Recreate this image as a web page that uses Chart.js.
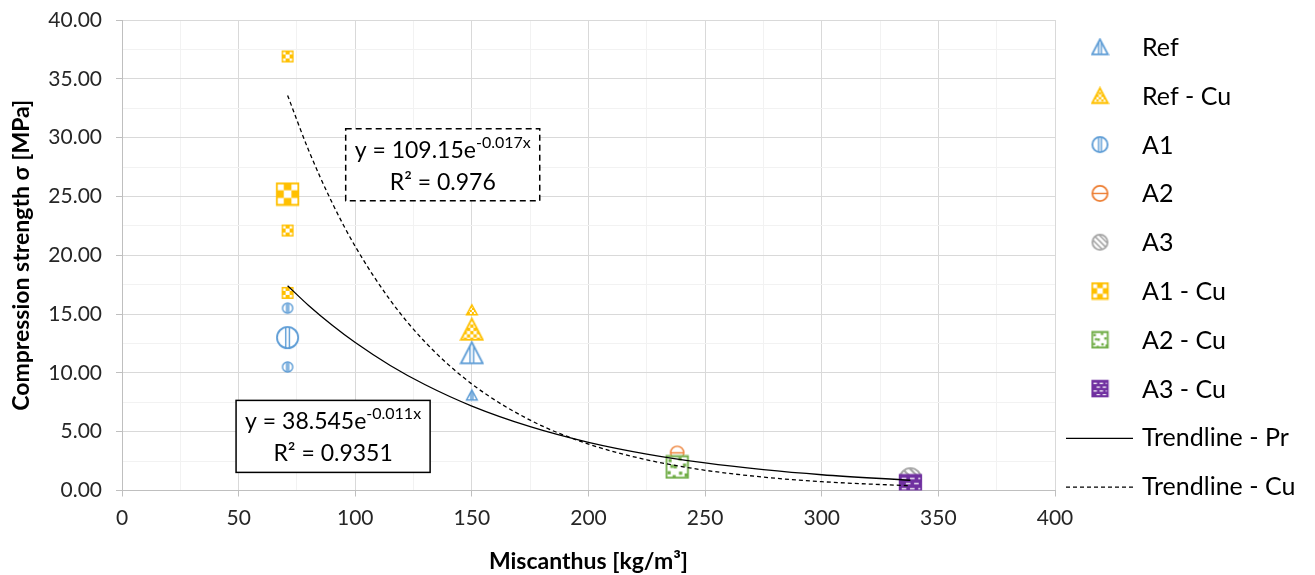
<!DOCTYPE html>
<html>
<head>
<meta charset="utf-8">
<script src="https://cdn.jsdelivr.net/npm/chart.js@4"></script>
<style>
  html, body { margin: 0; padding: 0; background: #fff; }
</style>
</head>
<body>
<canvas id="scatterChart" width="1315" height="575"></canvas>
<script>
const refX = [150, 150];
const refY = [8.1, 11.7];
const refCuX = [150, 150];
const refCuY = [15.35, 13.7];
const a1X = [71, 71, 71];
const a1Y = [15.5, 13.0, 10.5];
const a2X = [238];
const a2Y = [3.2];
const a3X = [338];
const a3Y = [1.0];
const a1CuX = [71, 71, 71, 71];
const a1CuY = [36.9, 25.2, 22.1, 16.8];
const a2CuX = [238];
const a2CuY = [2.0];
const a3CuX = [338];
const a3CuY = [0.4];

// 近似曲線（図の曲線から読み取った点）
const trendX = [71, 80, 90, 100, 115, 130, 150, 175, 200, 225, 250, 275, 300, 338];
const trendPrY = [17.41, 15.73, 14.07, 12.58, 10.63, 8.99, 7.18, 5.43, 4.10, 3.10, 2.34, 1.77, 1.34, 0.87];
const trendCuY = [33.59, 28.93, 24.50, 20.75, 16.18, 12.61, 9.05, 5.98, 3.95, 2.61, 1.72, 1.14, 0.75, 0.40];

const eqPr = { main: 'y = 38.545e', sup: '-0.011x', r2: 'R² = 0.9351' };
const eqCu = { main: 'y = 109.15e', sup: '-0.017x', r2: 'R² = 0.976' };

// マーカーの大きさ（見た目だけ）
const S = 12, M = 15, L = 23;
const refSizes = [S, L];
const refCuSizes = [S, L];
const a1Sizes = [S, L, S];
const a2Sizes = [M];
const a3Sizes = [L];
const a1CuSizes = [S, L, S, S];
const a2CuSizes = [L];
const a3CuSizes = [L];

const FONT = 'Lato, "Open Sans", sans-serif';

// パターン付きマーカーを canvas で作る
const markerKinds = {
  refV:   { shape: 'tri',  color: '#5B9BD5', fill: 'vlines' },
  refCu:  { shape: 'tri',  color: '#FFC000', fill: 'check' },
  a1:     { shape: 'circ', color: '#5B9BD5', fill: 'vlines' },
  a2:     { shape: 'circ', color: '#ED7D31', fill: 'hline' },
  a3:     { shape: 'circ', color: '#A5A5A5', fill: 'diag' },
  a1Cu:   { shape: 'sq',   color: '#FFC000', fill: 'bigcheck' },
  a2Cu:   { shape: 'sq',   color: '#70AD47', fill: 'confetti' },
  a3Cu:   { shape: 'sq',   color: '#7030A0', fill: 'brick' }
};
const markerCache = {};

function shapePath(g, shape, s) {
  const o = 1;
  g.beginPath();
  if (shape === 'tri') {
    g.moveTo(o + s / 2, o + 0.8);
    g.lineTo(o + s - 0.6, o + s - 1.2);
    g.lineTo(o + 0.6, o + s - 1.2);
    g.closePath();
  } else if (shape === 'circ') {
    g.arc(o + s / 2, o + s / 2, s / 2 - 0.9, 0, Math.PI * 2);
  } else {
    g.rect(o + 0.75, o + 0.75, s - 1.5, s - 1.5);
  }
}

function fillPattern(g, type, s, col) {
  const W = s + 2;
  g.fillStyle = col;
  if (type === 'vlines') {
    g.fillRect(1 + s * 0.42 - 0.7, 0, 1.4, W);
    g.fillRect(1 + s * 0.58 - 0.7, 0, 1.4, W);
  } else if (type === 'hline') {
    g.fillRect(0, 1 + s / 2 - 0.7, W, 1.4);
  } else if (type === 'check' || type === 'bigcheck') {
    const cell = type === 'check' ? Math.max(2, s / 7) : s / 3;
    for (let i = 0; i * cell < W; i++) {
      for (let j = 0; j * cell < W; j++) {
        if ((i + j) % 2 === 1) g.fillRect(1 + i * cell, 1 + j * cell, cell, cell);
      }
    }
  } else if (type === 'diag') {
    g.fillRect(0, 0, W, W);
    g.strokeStyle = '#fff';
    g.lineWidth = Math.max(1.5, s / 7);
    const step = s / 3;
    for (let k = -W; k < 2 * W; k += step) {
      g.beginPath();
      g.moveTo(k, 0);
      g.lineTo(k + W, W);
      g.stroke();
    }
  } else if (type === 'confetti') {
    const spots = [[0.12, 0.15], [0.55, 0.08], [0.35, 0.42], [0.75, 0.35], [0.08, 0.68], [0.58, 0.7], [0.82, 0.78], [0.3, 0.85], [0.2, 0.4]];
    const q = Math.max(2, s * 0.14);
    spots.forEach(p => g.fillRect(1 + p[0] * s, 1 + p[1] * s, q, q));
  } else if (type === 'brick') {
    g.fillRect(0, 0, W, W);
    g.fillStyle = '#fff';
    const rowH = s / 4.5;
    const dash = s / 5;
    let r = 0;
    for (let y = 1 + rowH * 0.7; y < W - 1; y += rowH, r++) {
      const off = (r % 2) ? dash * 0.9 : 0;
      for (let x = 1 + s * 0.12 + off; x < W - 1; x += dash * 1.8) {
        g.fillRect(x, y, dash, 1.3);
      }
    }
  }
}

function marker(kind, s) {
  const key = kind + '_' + s;
  if (markerCache[key]) return markerCache[key];
  const m = markerKinds[kind];
  const W = s + 2;
  const c = document.createElement('canvas');
  c.width = W;
  c.height = W;
  const g = c.getContext('2d');
  shapePath(g, m.shape, s);
  g.save();
  g.clip();
  g.fillStyle = '#fff';
  g.fillRect(0, 0, W, W);
  fillPattern(g, m.fill, s, m.color);
  g.restore();
  shapePath(g, m.shape, s);
  g.strokeStyle = m.color;
  g.lineWidth = s > 16 ? 1.8 : 1.4;
  g.stroke();
  markerCache[key] = c;
  return c;
}

function pts(xs, ys) {
  return xs.map((x, i) => ({ x: x, y: ys[i] }));
}

function scatterSet(label, xs, ys, kind, sizes, order) {
  return {
    label: label,
    data: pts(xs, ys),
    kind: kind,
    pointStyle: sizes.map(s => marker(kind, s)),
    pointRadius: sizes.map(s => s / 2),
    pointHoverRadius: sizes.map(s => s / 2),
    showLine: false,
    order: order
  };
}

const datasets = [
  scatterSet('Ref', refX, refY, 'refV', refSizes, 18),
  scatterSet('Ref - Cu', refCuX, refCuY, 'refCu', refCuSizes, 17),
  scatterSet('A1', a1X, a1Y, 'a1', a1Sizes, 16),
  scatterSet('A2', a2X, a2Y, 'a2', a2Sizes, 15),
  scatterSet('A3', a3X, a3Y, 'a3', a3Sizes, 14),
  scatterSet('A1 - Cu', a1CuX, a1CuY, 'a1Cu', a1CuSizes, 13),
  scatterSet('A2 - Cu', a2CuX, a2CuY, 'a2Cu', a2CuSizes, 12),
  scatterSet('A3 - Cu', a3CuX, a3CuY, 'a3Cu', a3CuSizes, 11),
  {
    label: 'Trendline - Pr',
    data: pts(trendX, trendPrY),
    showLine: true,
    borderColor: '#000',
    borderWidth: 1.3,
    pointRadius: 0,
    cubicInterpolationMode: 'monotone',
    order: 1
  },
  {
    label: 'Trendline - Cu',
    data: pts(trendX, trendCuY),
    showLine: true,
    borderColor: '#000',
    borderWidth: 1.3,
    borderDash: [4, 3],
    pointRadius: 0,
    cubicInterpolationMode: 'monotone',
    order: 0
  }
];

// 凡例と近似式を描くプラグイン
const extrasPlugin = {
  id: 'extras',
  afterDraw(chart) {
    const ctx = chart.ctx;
    const area = chart.chartArea;
    const xs = chart.scales.x;
    const ys = chart.scales.y;

    // 近似式ボックス
    function eqBox(eq, cx, cy, dashed) {
      const px = xs.getPixelForValue(cx);
      const py = ys.getPixelForValue(cy);
      ctx.save();
      ctx.font = '23px ' + FONT;
      const w1 = ctx.measureText(eq.main).width;
      ctx.font = '16px ' + FONT;
      const w2 = ctx.measureText(eq.sup).width;
      const tw = w1 + w2;
      const bw = tw + 18, bh = 72;
      ctx.fillStyle = '#fff';
      ctx.fillRect(px - bw / 2, py - bh / 2, bw, bh);
      ctx.strokeStyle = '#000';
      ctx.lineWidth = 1.5;
      ctx.setLineDash(dashed ? [6, 4] : []);
      ctx.strokeRect(px - bw / 2, py - bh / 2, bw, bh);
      ctx.setLineDash([]);
      ctx.fillStyle = '#000';
      ctx.textBaseline = 'alphabetic';
      ctx.textAlign = 'left';
      const x0 = px - tw / 2;
      ctx.font = '23px ' + FONT;
      ctx.fillText(eq.main, x0, py - 7);
      ctx.font = '16px ' + FONT;
      ctx.fillText(eq.sup, x0 + w1, py - 17);
      ctx.font = '23px ' + FONT;
      ctx.textAlign = 'center';
      ctx.fillText(eq.r2, px, py + 25);
      ctx.restore();
    }
    eqBox(eqCu, 137.5, 27.7, true);
    eqBox(eqPr, 90.5, 4.6, false);

    // 凡例
    const top = area.top + 27;
    const step = 48.8;
    const mx = area.right + 45;
    const tx = area.right + 87;
    ctx.save();
    ctx.font = '25px ' + FONT;
    ctx.fillStyle = '#000';
    ctx.textBaseline = 'middle';
    ctx.textAlign = 'left';
    chart.data.datasets.forEach((ds, i) => {
      const y = top + i * step;
      if (ds.kind) {
        const img = marker(ds.kind, 17);
        ctx.drawImage(img, mx - img.width / 2, y - img.height / 2);
      } else {
        ctx.beginPath();
        ctx.strokeStyle = '#000';
        ctx.lineWidth = 1.3;
        ctx.setLineDash(ds.borderDash || []);
        ctx.moveTo(area.right + 11, y + 1);
        ctx.lineTo(area.right + 78, y + 1);
        ctx.stroke();
        ctx.setLineDash([]);
      }
      ctx.fillText(ds.label, tx, y + 1);
    });
    ctx.restore();
  }
};

const majorGrid = '#D9D9D9';
const minorGrid = '#F2F2F2';

const ctx = document.getElementById('scatterChart').getContext('2d');
const chart = new Chart(ctx, {
  type: 'scatter',
  data: { datasets: datasets },
  plugins: [extrasPlugin],
  options: {
    responsive: false,
    animation: false,
    layout: { padding: { top: 20, right: 260, left: 0, bottom: 0 } },
    plugins: {
      legend: { display: false },
      tooltip: { enabled: false }
    },
    scales: {
      x: {
        type: 'linear',
        min: 0,
        max: 400,
        afterFit: s => { s.height = 84.5; },
        ticks: {
          stepSize: 25,
          autoSkip: false,
          maxRotation: 0,
          padding: 9,
          color: '#262626',
          font: { family: FONT, size: 21 },
          callback: v => (v % 50 === 0 ? String(v) : '')
        },
        grid: {
          color: c => (c.tick && c.tick.value % 50 === 0 ? majorGrid : minorGrid),
          tickColor: c => (c.tick && c.tick.value % 50 === 0 ? '#BFBFBF' : 'rgba(0,0,0,0)'),
          tickLength: 6
        },
        border: { color: '#BFBFBF' },
        title: {
          display: true,
          text: 'Miscanthus [kg/m³]',
          color: '#000',
          font: { family: FONT, size: 23, weight: 'bold' },
          padding: { top: 0, bottom: 0 }
        }
      },
      y: {
        type: 'linear',
        min: 0,
        max: 40,
        afterFit: s => {
          s.width = 122;
          s.paddingTop = 0;
          s.paddingBottom = 0;
        },
        ticks: {
          stepSize: 2.5,
          autoSkip: false,
          padding: 14,
          color: '#262626',
          font: { family: FONT, size: 21 },
          callback: v => (v % 5 === 0 ? v.toFixed(2) : '')
        },
        grid: {
          color: c => (c.tick && c.tick.value % 5 === 0 ? majorGrid : minorGrid),
          tickColor: c => (c.tick && c.tick.value % 5 === 0 ? '#BFBFBF' : 'rgba(0,0,0,0)'),
          tickLength: 6
        },
        border: { color: '#BFBFBF' },
        title: {
          display: true,
          text: 'Compression strength σ [MPa]',
          color: '#000',
          font: { family: FONT, size: 23, weight: 'bold' },
          padding: { top: 8, bottom: 8 }
        }
      }
    }
  }
});
</script>
</body>
</html>
